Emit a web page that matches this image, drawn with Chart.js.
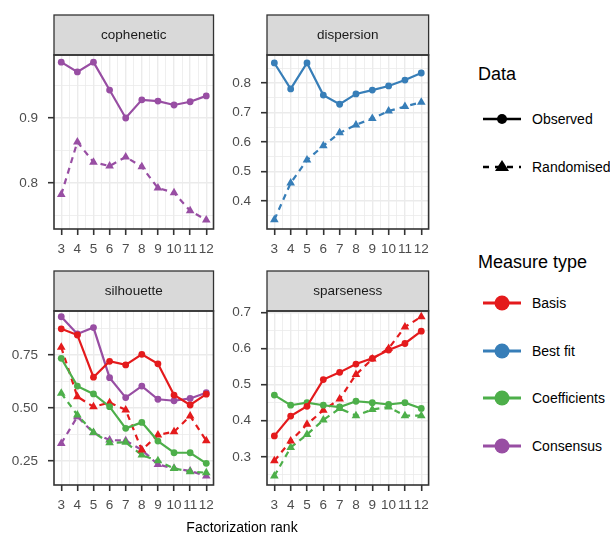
<!DOCTYPE html>
<html>
<head>
<meta charset="utf-8">
<script src="https://cdn.jsdelivr.net/npm/chart.js@4.4.0/dist/chart.umd.min.js"></script>
<style>
  body { margin: 0; background: #fff; font-family: "Liberation Sans", Arial, Helvetica, sans-serif; }
  #wrap { position: relative; width: 610px; height: 535px; }
  canvas { position: absolute; }
  .lg { position: absolute; color: #000; }
  .lgtitle { font-size: 18px; }
  .lgitem { position: absolute; left: 483px; height: 20px; font-size: 14px; display: flex; align-items: center; }
  .lgitem span { margin-left: 11px; }
  #xtitle { position: absolute; top: 519px; left: 54px; width: 376px; text-align: center; font-size: 14px; color: #000; }
</style>
</head>
<body>
<div id="wrap">
  <canvas id="c1" width="220" height="259" style="left:0;top:0"></canvas>
  <canvas id="c2" width="215" height="259" style="left:220px;top:0"></canvas>
  <canvas id="c3" width="220" height="260" style="left:0;top:255px"></canvas>
  <canvas id="c4" width="215" height="260" style="left:220px;top:255px"></canvas>
  <div id="xtitle">Factorization rank</div>

  <div class="lg lgtitle" style="left:478px;top:64px">Data</div>
  <div class="lgitem" style="top:109px">
    <svg width="38" height="20"><line x1="0" y1="10" x2="38" y2="10" stroke="#000" stroke-width="2.5"/><circle cx="19" cy="10" r="5" fill="#000"/></svg><span>Observed</span>
  </div>
  <div class="lgitem" style="top:157px">
    <svg width="38" height="20"><line x1="0" y1="10" x2="38" y2="10" stroke="#000" stroke-width="2.5" stroke-dasharray="6,6"/><polygon points="19,3 26,14 12,14" fill="#000"/></svg><span>Randomised</span>
  </div>

  <div class="lg lgtitle" style="left:478px;top:252px">Measure type</div>
  <div class="lgitem" style="top:293px">
    <svg width="38" height="20"><line x1="0" y1="10" x2="38" y2="10" stroke="#E41A1C" stroke-width="3"/><circle cx="19" cy="10" r="7.5" fill="#E41A1C"/></svg><span>Basis</span>
  </div>
  <div class="lgitem" style="top:341px">
    <svg width="38" height="20"><line x1="0" y1="10" x2="38" y2="10" stroke="#377EB8" stroke-width="3"/><circle cx="19" cy="10" r="7.5" fill="#377EB8"/></svg><span>Best fit</span>
  </div>
  <div class="lgitem" style="top:388px">
    <svg width="38" height="20"><line x1="0" y1="10" x2="38" y2="10" stroke="#4DAF4A" stroke-width="3"/><circle cx="19" cy="10" r="7.5" fill="#4DAF4A"/></svg><span>Coefficients</span>
  </div>
  <div class="lgitem" style="top:436px">
    <svg width="38" height="20"><line x1="0" y1="10" x2="38" y2="10" stroke="#984EA3" stroke-width="3"/><circle cx="19" cy="10" r="7.5" fill="#984EA3"/></svg><span>Consensus</span>
  </div>
</div>

<script>
// factorization ranks (x axis)
var ranks = [3, 4, 5, 6, 7, 8, 9, 10, 11, 12];

// cophenetic
var cophObserved   = [0.986, 0.971, 0.986, 0.943, 0.900, 0.928, 0.926, 0.920, 0.925, 0.934];
var cophRandomised = [0.782, 0.863, 0.832, 0.826, 0.840, 0.825, 0.792, 0.785, 0.757, 0.743];

// dispersion
var dispObserved   = [0.868, 0.780, 0.868, 0.759, 0.728, 0.763, 0.776, 0.790, 0.810, 0.834];
var dispRandomised = [0.336, 0.461, 0.539, 0.587, 0.631, 0.658, 0.680, 0.705, 0.720, 0.735];

// silhouette
var silBasisObs    = [0.873, 0.844, 0.645, 0.720, 0.703, 0.753, 0.708, 0.561, 0.514, 0.565];
var silCoefObs     = [0.734, 0.603, 0.566, 0.506, 0.404, 0.432, 0.344, 0.289, 0.289, 0.239];
var silConsObs     = [0.930, 0.849, 0.879, 0.643, 0.549, 0.603, 0.541, 0.534, 0.545, 0.572];
var silBasisRand   = [0.786, 0.553, 0.506, 0.525, 0.491, 0.302, 0.373, 0.388, 0.462, 0.346];
var silCoefRand    = [0.569, 0.467, 0.385, 0.336, 0.338, 0.278, 0.251, 0.215, 0.200, 0.195];
var silConsRand    = [0.333, 0.459, 0.383, 0.349, 0.346, 0.302, 0.234, 0.215, 0.203, 0.180];

// sparseness
var spBasisObs     = [0.358, 0.413, 0.440, 0.514, 0.534, 0.557, 0.573, 0.596, 0.614, 0.648];
var spCoefObs      = [0.471, 0.443, 0.450, 0.443, 0.438, 0.454, 0.450, 0.445, 0.450, 0.434];
var spBasisRand    = [0.289, 0.344, 0.390, 0.429, 0.460, 0.528, 0.571, 0.600, 0.660, 0.688];
var spCoefRand     = [0.247, 0.326, 0.362, 0.402, 0.434, 0.414, 0.431, 0.438, 0.414, 0.414];

// tick labels
var cophTicks = [0.8, 0.9];
var dispTicks = [0.4, 0.5, 0.6, 0.7, 0.8];
var silTicks  = [0.25, 0.5, 0.75];
var spTicks   = [0.3, 0.4, 0.5, 0.6, 0.7];

var RED = '#E41A1C', BLUE = '#377EB8', GREEN = '#4DAF4A', PURPLE = '#984EA3';

Chart.defaults.font.family = '"Liberation Sans", Arial, Helvetica, sans-serif';
Chart.defaults.animation = false;

function xy(vals) {
  return vals.map(function(v, i) { return { x: ranks[i], y: v }; });
}

function series(vals, color, randomised) {
  return {
    data: xy(vals),
    borderColor: color,
    backgroundColor: color,
    borderWidth: 2.2,
    borderDash: randomised ? [6, 5] : [],
    pointStyle: randomised ? 'triangle' : 'circle',
    pointRadius: randomised ? 5 : 3.4,
    pointBorderWidth: 0,
    tension: 0
  };
}

// major + minor (midpoint) break list
function withMinor(major, lo, hi) {
  var step = major[1] - major[0];
  var out = [];
  var start = major[0] - step * 2;
  for (var k = 0; k < 40; k++) {
    var v = +(start + k * step / 2).toFixed(6);
    if (v >= lo - 1e-9 && v <= hi + 1e-9) out.push(v);
  }
  return out;
}
function isMajor(v, major) {
  return major.some(function(m) { return Math.abs(m - v) < 1e-6; });
}

var stripPlugin = {
  id: 'strip',
  afterDraw: function(chart, args, opts) {
    var ctx = chart.ctx, a = chart.chartArea;
    ctx.save();
    ctx.fillStyle = '#d9d9d9';
    ctx.fillRect(a.left, a.top - 40, a.right - a.left, 40);
    ctx.strokeStyle = '#333';
    ctx.lineWidth = 1.3;
    ctx.strokeRect(a.left, a.top - 40, a.right - a.left, 40);
    ctx.lineWidth = 1.6;
    ctx.strokeRect(a.left, a.top, a.right - a.left, a.bottom - a.top);
    ctx.fillStyle = '#1a1a1a';
    ctx.font = '13.5px "Liberation Sans", Arial, sans-serif';
    ctx.textAlign = 'center';
    ctx.textBaseline = 'middle';
    ctx.fillText(opts.text, (a.left + a.right) / 2, a.top - 20);
    ctx.restore();
  }
};

function makePanel(id, title, datasets, yMajor, yMin, yMax, yWidth, padTop) {
  var yAll = withMinor(yMajor, yMin, yMax);
  var xMajor = ranks;
  var xAll = withMinor(xMajor, 2.55, 12.45);
  new Chart(document.getElementById(id), {
    type: 'line',
    data: { datasets: datasets },
    plugins: [stripPlugin],
    options: {
      responsive: false,
      layout: { padding: { top: padTop, right: 5, left: 0, bottom: 0 } },
      plugins: { legend: { display: false }, tooltip: { enabled: false }, strip: { text: title } },
      scales: {
        x: {
          type: 'linear', min: 2.55, max: 12.45,
          afterBuildTicks: function(s) { s.ticks = xAll.map(function(v) { return { value: v }; }); },
          afterFit: function(s) { s.height = 30; },
          border: { display: false },
          grid: {
            color: '#ebebeb',
            lineWidth: function(c) { return isMajor(c.tick.value, xMajor) ? 1.4 : 0.8; },
            tickColor: function(c) { return isMajor(c.tick.value, xMajor) ? '#333' : 'rgba(0,0,0,0)'; },
            tickLength: 6, tickWidth: 1.6
          },
          ticks: {
            autoSkip: false, maxRotation: 0, padding: 6, color: '#4d4d4d',
            font: { size: 13.5 },
            callback: function(v) { return isMajor(v, xMajor) ? String(v) : ''; }
          }
        },
        y: {
          min: yMin, max: yMax,
          afterBuildTicks: function(s) { s.ticks = yAll.map(function(v) { return { value: v }; }); },
          afterFit: function(s) { s.width = yWidth; },
          border: { display: false },
          grid: {
            color: '#ebebeb',
            lineWidth: function(c) { return isMajor(c.tick.value, yMajor) ? 1.4 : 0.8; },
            tickColor: function(c) { return isMajor(c.tick.value, yMajor) ? '#333' : 'rgba(0,0,0,0)'; },
            tickLength: 6, tickWidth: 1.6
          },
          ticks: {
            autoSkip: false, padding: 10, color: '#4d4d4d',
            font: { size: 13.5 },
            callback: function(v) {
              if (!isMajor(v, yMajor)) return '';
              return yMajor === silTicks ? v.toFixed(2) : v.toFixed(1);
            }
          }
        }
      }
    }
  });
}

makePanel('c1', 'cophenetic', [
  series(cophObserved, PURPLE, false),
  series(cophRandomised, PURPLE, true)
], cophTicks, 0.729, 0.997, 54, 55);

makePanel('c2', 'dispersion', [
  series(dispObserved, BLUE, false),
  series(dispRandomised, BLUE, true)
], dispTicks, 0.305, 0.895, 47, 55);

makePanel('c3', 'silhouette', [
  series(silBasisObs, RED, false),
  series(silCoefObs, GREEN, false),
  series(silConsObs, PURPLE, false),
  series(silBasisRand, RED, true),
  series(silCoefRand, GREEN, true),
  series(silConsRand, PURPLE, true)
], silTicks, 0.137, 0.957, 54, 56);

makePanel('c4', 'sparseness', [
  series(spBasisObs, RED, false),
  series(spCoefObs, GREEN, false),
  series(spBasisRand, RED, true),
  series(spCoefRand, GREEN, true)
], spTicks, 0.222, 0.704, 47, 56);
</script>
</body>
</html>
